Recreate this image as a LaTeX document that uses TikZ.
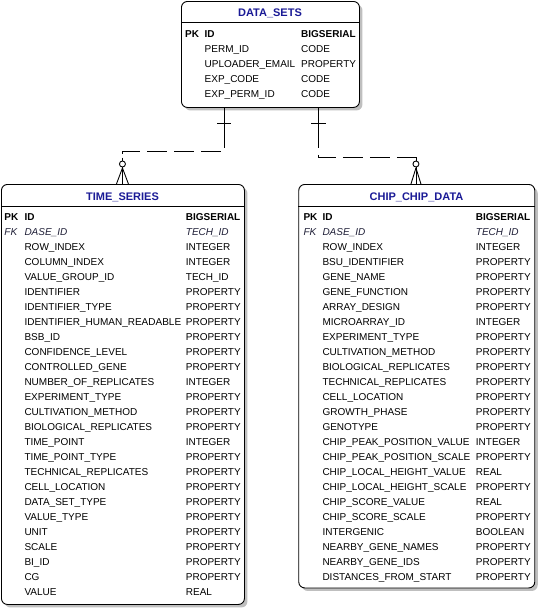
\documentclass[tikz,border=0pt]{standalone}
\usepackage{fontspec}
\setmainfont{Liberation Sans}
\usetikzlibrary{shadows,calc}
\definecolor{ttl}{HTML}{1A1A96}
\definecolor{fkc}{HTML}{202038}
\begin{document}
\begin{tikzpicture}[x=1pt,y=-1pt,
  tbl/.style={draw=black, line width=0.9pt, fill=white, rounded corners=6pt, inner sep=0pt, anchor=north west,
    drop shadow={shadow xshift=3pt, shadow yshift=-3pt, fill=black!25, opacity=1}},
  hline/.style={draw=black, line width=0.9pt},
  ttlbox/.style={inner sep=0pt, anchor=base, text=ttl, font=\fontsize{11}{13}\selectfont\bfseries},
  cell/.style={inner sep=0pt, anchor=base west, font=\fontsize{10}{12}\selectfont},
  pkc/.style={cell, font=\fontsize{10}{12}\selectfont\bfseries},
  fkcell/.style={cell, text=fkc, font=\fontsize{10}{12}\selectfont\itshape},
  conn/.style={line width=0.9pt},
  dconn/.style={line width=0.9pt, dash pattern=on 20pt off 7pt}
]
\useasboundingbox (0,0) rectangle (540,611);

% ---------- DATA_SETS ----------
\node[tbl, minimum width=178pt, minimum height=106pt] (ds) at (181,1) {};
\draw[hline] ($(ds.north west)+(0,21.7)$) -- ($(ds.north east)+(0,21.7)$);
\node[ttlbox] (ds-title) at (270,16) {DATA\_SETS};
\node[pkc] (ds-pk) at (185,37) {PK};
\node[pkc] (ds-n0) at (204.5,37) {ID};
\node[pkc] (ds-t0) at (301,37) {BIGSERIAL};
\foreach \nm/\ty [count=\i] in {PERM\_ID/CODE, UPLOADER\_EMAIL/PROPERTY, EXP\_CODE/CODE, EXP\_PERM\_ID/CODE}{
  \node[cell] (ds-n\i) at (204.5,{37+15*\i}) {\nm};
  \node[cell] (ds-t\i) at (301,{37+15*\i}) {\ty};
}

% ---------- TIME_SERIES ----------
\node[tbl, minimum width=243pt, minimum height=420pt] (ts) at (1,184) {};
\draw[hline] ($(ts.north west)+(0,22)$) -- ($(ts.north east)+(0,22)$);
\node[ttlbox] (ts-title) at (122.5,200) {TIME\_SERIES};
\node[pkc] (ts-pk) at (4.3,220) {PK};
\node[pkc] (ts-n0) at (24.3,220) {ID};
\node[pkc] (ts-t0) at (185.7,220) {BIGSERIAL};
\node[fkcell] (ts-fk) at (4.3,235) {FK};
\node[fkcell] (ts-nf) at (24.3,235) {DASE\_ID};
\node[fkcell] (ts-tf) at (185.7,235) {TECH\_ID};
\foreach \nm/\ty [count=\i] in {ROW\_INDEX/INTEGER, COLUMN\_INDEX/INTEGER, VALUE\_GROUP\_ID/TECH\_ID,
  IDENTIFIER/PROPERTY, IDENTIFIER\_TYPE/PROPERTY, IDENTIFIER\_HUMAN\_READABLE/PROPERTY, BSB\_ID/PROPERTY,
  CONFIDENCE\_LEVEL/PROPERTY, CONTROLLED\_GENE/PROPERTY, NUMBER\_OF\_REPLICATES/INTEGER,
  EXPERIMENT\_TYPE/PROPERTY, CULTIVATION\_METHOD/PROPERTY, BIOLOGICAL\_REPLICATES/PROPERTY,
  TIME\_POINT/INTEGER, TIME\_POINT\_TYPE/PROPERTY, TECHNICAL\_REPLICATES/PROPERTY,
  CELL\_LOCATION/PROPERTY, DATA\_SET\_TYPE/PROPERTY, VALUE\_TYPE/PROPERTY, UNIT/PROPERTY,
  SCALE/PROPERTY, BI\_ID/PROPERTY, CG/PROPERTY, VALUE/REAL}{
  \node[cell] (ts-n\i) at (24.3,{220+15*(\i+1)}) {\nm};
  \node[cell] (ts-t\i) at (185.7,{220+15*(\i+1)}) {\ty};
}

% ---------- CHIP_CHIP_DATA ----------
\node[tbl, minimum width=236pt, minimum height=403.5pt] (cc) at (298.3,184) {};
\draw[hline] ($(cc.north west)+(0,22)$) -- ($(cc.north east)+(0,22)$);
\node[ttlbox] (cc-title) at (416.5,200) {CHIP\_CHIP\_DATA};
\node[pkc] (cc-pk) at (303.3,220) {PK};
\node[pkc] (cc-n0) at (322.3,220) {ID};
\node[pkc] (cc-t0) at (475.7,220) {BIGSERIAL};
\node[fkcell] (cc-fk) at (303.3,235) {FK};
\node[fkcell] (cc-nf) at (322.3,235) {DASE\_ID};
\node[fkcell] (cc-tf) at (475.7,235) {TECH\_ID};
\foreach \nm/\ty [count=\i] in {ROW\_INDEX/INTEGER, BSU\_IDENTIFIER/PROPERTY, GENE\_NAME/PROPERTY,
  GENE\_FUNCTION/PROPERTY, ARRAY\_DESIGN/PROPERTY, MICROARRAY\_ID/INTEGER, EXPERIMENT\_TYPE/PROPERTY,
  CULTIVATION\_METHOD/PROPERTY, BIOLOGICAL\_REPLICATES/PROPERTY, TECHNICAL\_REPLICATES/PROPERTY,
  CELL\_LOCATION/PROPERTY, GROWTH\_PHASE/PROPERTY, GENOTYPE/PROPERTY,
  CHIP\_PEAK\_POSITION\_VALUE/INTEGER, CHIP\_PEAK\_POSITION\_SCALE/PROPERTY,
  CHIP\_LOCAL\_HEIGHT\_VALUE/REAL, CHIP\_LOCAL\_HEIGHT\_SCALE/PROPERTY, CHIP\_SCORE\_VALUE/REAL,
  CHIP\_SCORE\_SCALE/PROPERTY, INTERGENIC/BOOLEAN, NEARBY\_GENE\_NAMES/PROPERTY,
  NEARBY\_GENE\_IDS/PROPERTY, DISTANCES\_FROM\_START/PROPERTY}{
  \node[cell] (cc-n\i) at (322.3,{220+15*(\i+1)}) {\nm};
  \node[cell] (cc-t\i) at (475.7,{220+15*(\i+1)}) {\ty};
}

% ---------- connector DATA_SETS -> TIME_SERIES ----------
\coordinate (l0) at ($(ds.south west)+(43.3,0)$);
\coordinate (l1) at ($(l0)+(0,20)$);
\coordinate (l2) at ($(l0)+(0,43.3)$);
\coordinate (le) at ($(ts.north)+(-0.5,0)$);
\coordinate (lc) at ($(le)+(0,-20)$);
\draw[conn] (l0) -- (l1);
\draw[conn] ($(l0)+(-7.3,16)$) -- ($(l0)+(7,16)$);
\draw[dconn] (l1) -- (l2) -| ($(lc)+(0,-5.5)$);
\draw[conn] ($(lc)+(0,-6.5)$) -- ($(lc)+(0,-3)$);
\draw[conn] (lc) circle[radius=3];
\draw[conn] ($(lc)+(0,3)$) -- (le);
\draw[conn] ($(lc)+(0,4)$) -- ($(le)+(-6,0)$);
\draw[conn] ($(lc)+(0,4)$) -- ($(le)+(6,0)$);

% ---------- connector DATA_SETS -> CHIP_CHIP_DATA ----------
\coordinate (r0) at ($(ds.south west)+(137.3,0)$);
\coordinate (r1) at ($(r0)+(0,20)$);
\coordinate (r2) at ($(r0)+(0,49.5)$);
\coordinate (re) at ($(cc.north)+(-0.8,0)$);
\coordinate (rc) at ($(re)+(0,-20)$);
\draw[conn] (r0) -- (r1);
\draw[conn] ($(r0)+(-7,16)$) -- ($(r0)+(7.3,16)$);
\draw[dconn] (r1) -- (r2) -| ($(rc)+(0,-6.5)$);
\draw[conn] ($(rc)+(0,-6.5)$) -- ($(rc)+(0,-3)$);
\draw[conn] (rc) circle[radius=3];
\draw[conn] ($(rc)+(0,3)$) -- (re);
\draw[conn] ($(rc)+(0,4)$) -- ($(re)+(-5,0)$);
\draw[conn] ($(rc)+(0,4)$) -- ($(re)+(5,0)$);
\end{tikzpicture}
\end{document}
